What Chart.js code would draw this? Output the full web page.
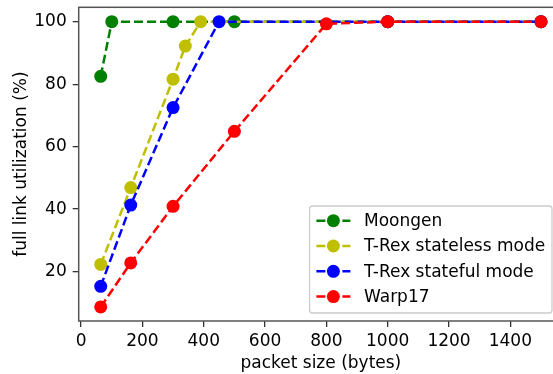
<!DOCTYPE html>
<html>
<head>
<meta charset="utf-8">
<script src="https://cdn.jsdelivr.net/npm/chart.js@4.4.1/dist/chart.umd.min.js"></script>
<style>
  html, body { margin: 0; padding: 0; overflow: hidden; background: #fff; }
  #wrap { width: 570px; height: 374px; }
</style>
</head>
<body>
<div id="wrap"><canvas id="c"></canvas></div>
<script>
// series names
const seriesNames = ['Moongen', 'T-Rex stateless mode', 'T-Rex stateful mode', 'Warp17'];

// packet sizes (bytes) and utilization (%)
const moongenX = [64, 100, 300, 500, 1000, 1500];
const moongenY = [82.5, 100, 100, 100, 100, 100];

const statelessX = [64, 162, 300, 340, 390, 1000, 1500];
const statelessY = [22.3, 46.9, 81.6, 92.2, 100, 100, 100];

const statefulX = [64, 162, 300, 450, 1000, 1500];
const statefulY = [15.3, 41.3, 72.5, 100, 100, 100];

const warpX = [64, 162, 300, 500, 800, 1000, 1500];
const warpY = [8.7, 22.8, 40.9, 64.9, 99.3, 100, 100];

const xTicks = [0, 200, 400, 600, 800, 1000, 1200, 1400];
const yTicks = [20, 40, 60, 80, 100];

const colors = ['#008000', '#bfbf00', '#0000ff', '#ff0000'];
const FS = 17;
const dash = [9, 4];

Chart.defaults.font.family = '"DejaVu Sans", sans-serif';
Chart.defaults.font.size = FS;
Chart.defaults.color = '#000';

function pts(xs, ys) {
  return xs.map((x, i) => ({ x: x, y: ys[i] }));
}

function makeSet(i, xs, ys) {
  return {
    label: seriesNames[i],
    data: pts(xs, ys),
    borderColor: colors[i],
    backgroundColor: colors[i],
    pointBackgroundColor: colors[i],
    pointBorderColor: colors[i],
    borderWidth: 2.5,
    borderDash: dash,
    pointRadius: 6.5,
    pointBorderWidth: 0,
    fill: false,
    tension: 0,
    order: 3 - i
  };
}

// box around the plot, like matplotlib spines
const framePlugin = {
  id: 'frame',
  afterDraw(chart) {
    const { ctx, chartArea: a } = chart;
    ctx.save();
    ctx.strokeStyle = '#555';
    ctx.lineWidth = 1.5;
    ctx.strokeRect(a.left, a.top, a.right - a.left, a.bottom - a.top);
    ctx.restore();
  }
};

// legend in the lower right corner of the plot
const legendPlugin = {
  id: 'mplLegend',
  afterDraw(chart) {
    const { ctx, chartArea: a } = chart;
    const sets = chart.data.datasets;
    ctx.save();
    ctx.font = FS + 'px "DejaVu Sans", sans-serif';
    let maxW = 0;
    sets.forEach(s => { maxW = Math.max(maxW, ctx.measureText(s.label).width); });
    const pad = 0.4 * FS, handle = 2 * FS, textPad = 0.8 * FS, rowH = 25.3;
    const w = pad + handle + textPad + maxW + pad;
    const h = 107;
    const right = a.right - 11;
    const bottom = a.bottom - 8;
    const left = right - w, top = bottom - h;

    ctx.beginPath();
    ctx.roundRect(left, top, w, h, 3);
    ctx.fillStyle = 'rgba(255,255,255,0.8)';
    ctx.fill();
    ctx.strokeStyle = '#cccccc';
    ctx.lineWidth = 1.3;
    ctx.stroke();

    sets.forEach((s, i) => {
      const cy = top + 14.7 + rowH * i;
      const x0 = left + pad;
      ctx.beginPath();
      ctx.setLineDash(dash);
      ctx.strokeStyle = s.borderColor;
      ctx.lineWidth = 2.5;
      ctx.moveTo(x0, cy);
      ctx.lineTo(x0 + handle, cy);
      ctx.stroke();
      ctx.setLineDash([]);
      ctx.beginPath();
      ctx.arc(x0 + handle / 2, cy, 6.5, 0, Math.PI * 2);
      ctx.fillStyle = s.borderColor;
      ctx.fill();
      ctx.fillStyle = '#000';
      ctx.textBaseline = 'middle';
      ctx.textAlign = 'left';
      ctx.fillText(s.label, x0 + handle + textPad, cy + 1);
    });
    ctx.restore();
  }
};

new Chart(document.getElementById('c'), {
  type: 'line',
  data: {
    datasets: [
      makeSet(0, moongenX, moongenY),
      makeSet(1, statelessX, statelessY),
      makeSet(2, statefulX, statefulY),
      makeSet(3, warpX, warpY)
    ]
  },
  options: {
    responsive: true,
    maintainAspectRatio: false,
    animation: false,
    devicePixelRatio: 1,
    layout: { padding: { left: 0, top: 7.3, right: 7, bottom: 0 } },
    plugins: { legend: { display: false }, tooltip: { enabled: false } },
    scales: {
      x: {
        type: 'linear',
        min: -7.8,
        max: 1571.8,
        afterBuildTicks: s => { s.ticks = xTicks.map(v => ({ value: v })); },
        afterFit: s => { s.height = 53; s.paddingLeft = 0; s.paddingRight = 0; },
        grid: { drawOnChartArea: false, drawTicks: true, tickLength: 6, color: '#333', lineWidth: 1.3 },
        border: { display: false },
        ticks: { padding: 4, maxRotation: 0, autoSkip: false, color: '#000', callback: v => String(v) },
        title: { display: true, text: 'packet size (bytes)', padding: { top: 0, bottom: 0 }, color: '#000' }
      },
      y: {
        type: 'linear',
        min: 4.2,
        max: 104.6,
        afterBuildTicks: s => { s.ticks = yTicks.map(v => ({ value: v })); },
        afterFit: s => { s.width = 78.7; s.paddingTop = 0; s.paddingBottom = 0; },
        grid: { drawOnChartArea: false, drawTicks: true, tickLength: 6, color: '#333', lineWidth: 1.3 },
        border: { display: false },
        ticks: { padding: 6, autoSkip: false, color: '#000', callback: v => String(v) },
        title: { display: true, text: 'full link utilization (%)', padding: { top: 11, bottom: 0 }, color: '#000' }
      }
    }
  },
  plugins: [framePlugin, legendPlugin]
});
</script>
</body>
</html>
